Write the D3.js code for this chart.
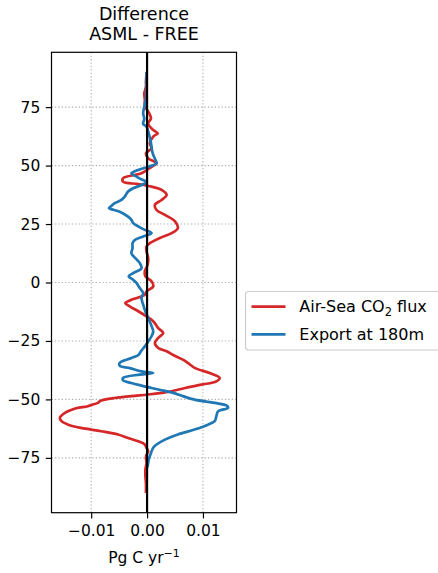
<!DOCTYPE html>
<html>
<head>
<meta charset="utf-8">
<script src="https://cdn.jsdelivr.net/npm/d3@7"></script>
<style>
  html, body { margin: 0; padding: 0; background: #fff; }
  svg { display: block; font-family: "DejaVu Sans", sans-serif; }
</style>
</head>
<body>
<svg id="chart" width="438" height="573"></svg>
<script>
// ---------- data ----------
const seriesNames = ["Air-Sea CO\u2082 flux", "Export at 180m"];
const seriesColors = ["#d62728", "#1f77b4"];

// Air-Sea CO2 flux difference (Pg C / yr) by latitude
const fluxLat = [89.5, 86, 83.7, 80.9, 78, 75.2, 73.5, 72.3, 70.2, 68.0, 65.2, 63.8, 62.4, 59.5, 57.4, 55.3, 53.1, 51.0, 49.5, 46.7, 44.6, 43.1, 42.1, 41.0, 39.6, 37.4, 35.3, 33.2, 31.0, 28.9, 26.1, 23.2, 21.1, 19.0, 16.8, 15.4, 13.3, 10.4, 7.6, 4.7, 2.6, 0.5, -1.7, -3.8, -5.2, -7.4, -8.8, -10.2, -12.4, -14.5, -16.6, -19.5, -21.6, -23.7, -25.9, -28.0, -29.4, -30.9, -33.0, -34.4, -36.6, -38.7, -40.8, -42.3, -43.7, -45.1, -46.5, -47.2, -47.9, -48.6, -49.4, -50.1, -50.8, -51.5, -52.2, -52.9, -54.0, -55.8, -57.9, -59.3, -60.8, -62.2, -63.6, -65.0, -66.5, -67.9, -69.3, -70.7, -72.2, -73.6, -75.0, -77.1, -80.0, -82.8, -86.0, -89.5];
const fluxVal = [-0.0001, -0.0002, -0.0002, -0.0005, -0.0004, -0.0004, 0.0001, 0.0004, 0.0007, 0.0002, 0.0011, 0.0019, 0.0011, 0.0005, 0.0008, -0.0002, 0.0002, 0.0017, 0.0008, -0.0010, -0.0043, -0.0043, -0.0016, 0.0008, 0.0026, 0.0035, 0.0026, 0.0014, 0.0017, 0.0032, 0.0050, 0.0055, 0.0044, 0.0023, 0.0005, -0.0001, -0.0001, 0.0002, 0.0001, -0.0004, -0.0003, 0.0008, 0.0011, -0.0001, -0.0004, -0.0028, -0.0039, -0.0031, -0.0015, -0.0001, 0.0011, 0.0020, 0.0029, 0.0020, 0.0014, 0.0020, 0.0035, 0.0046, 0.0064, 0.0073, 0.0086, 0.0112, 0.0130, 0.0124, 0.0097, 0.0068, 0.0044, 0.0026, 0.0002, -0.0028, -0.0058, -0.0076, -0.0085, -0.0088, -0.0097, -0.0106, -0.0130, -0.0147, -0.0156, -0.0153, -0.0141, -0.0118, -0.0082, -0.0052, -0.0034, -0.0016, -0.0004, -0.0001, 0.0002, -0.0001, -0.0002, -0.0001, -0.0003, -0.0003, -0.0002, -0.0002];

// Export at 180m difference (Pg C / yr) by latitude
const exportLat = [89.5, 86, 82, 78, 75.2, 72.3, 70.0, 67.8, 66.6, 63.8, 60.9, 58.1, 55.3, 52.4, 51.0, 49.5, 48.1, 46.7, 45.3, 44.1, 43.1, 41.7, 40.3, 38.9, 36.7, 35.3, 33.9, 32.5, 31.8, 30.3, 28.2, 26.8, 25.4, 23.9, 22.5, 21.1, 19.7, 18.2, 16.8, 14.7, 12.5, 10.4, 8.3, 6.1, 4.0, 2.6, 1.2, -0.2, -2.4, -4.5, -6.6, -9.5, -12.4, -15.2, -18.0, -20.9, -23.0, -25.2, -27.3, -29.4, -30.9, -32.3, -34.4, -35.6, -36.6, -38.0, -38.7, -39.4, -40.8, -41.8, -43.0, -44.1, -45.1, -46.1, -47.2, -48.6, -50.1, -51.5, -52.6, -53.6, -55.1, -57.2, -59.3, -60.8, -62.9, -65.0, -67.2, -69.3, -70.7, -72.9, -75.7, -77.1, -78.5];
const exportVal = [-0.0001, -0.0001, -0.0001, -0.0002, -0.0005, -0.0007, -0.0005, -0.0007, -0.0001, 0.0003, 0.0006, 0.0008, 0.0010, 0.0015, 0.0017, 0.0002, -0.0016, -0.0028, -0.0019, -0.0010, -0.0001, -0.0010, -0.0025, -0.0034, -0.0040, -0.0046, -0.0058, -0.0065, -0.0068, -0.0049, -0.0034, -0.0028, -0.0025, -0.0015, -0.0004, 0.0008, -0.0007, -0.0022, -0.0026, -0.0026, -0.0028, -0.0021, -0.0013, -0.0010, -0.0025, -0.0033, -0.0025, -0.0019, -0.0013, -0.0007, -0.0010, -0.0007, -0.0003, 0.0002, 0.0007, 0.0011, 0.0008, 0.0002, -0.0004, -0.0011, -0.0015, -0.0028, -0.0049, -0.0049, -0.0031, -0.0010, 0.0011, -0.0013, -0.0043, -0.0043, -0.0028, -0.0010, 0.0008, 0.0026, 0.0047, 0.0064, 0.0085, 0.0121, 0.0142, 0.0145, 0.0127, 0.0124, 0.0121, 0.0109, 0.0085, 0.0055, 0.0032, 0.0017, 0.0011, 0.0007, 0.0003, 0.0002, 0.0001];

const xTicks = [-0.01, 0.00, 0.01];
const xTickLabels = ["\u22120.01", "0.00", "0.01"];
const yTicks = [-75, -50, -25, 0, 25, 50, 75];
const yTickLabels = ["\u221275", "\u221250", "\u221225", "0", "25", "50", "75"];
const titleLines = ["Difference", "ASML - FREE"];

// ---------- layout ----------
const svg = d3.select("#chart");
const plot = { left: 51.5, right: 236.5, top: 52.3, bottom: 512.7 };

const allVals = fluxVal.concat(exportVal);
const allLats = fluxLat.concat(exportLat);
const [vmin, vmax] = d3.extent(allVals);
const vpad = (vmax - vmin) * 0.05;
const [lmin, lmax] = d3.extent(allLats);
const lpad = (lmax - lmin) * 0.05;

const x = d3.scaleLinear().domain([vmin - vpad, vmax + vpad]).range([plot.left, plot.right]);
const y = d3.scaleLinear().domain([lmin - lpad, lmax + lpad]).range([plot.bottom, plot.top]);

const fontTick = 15.5;

// grid
const grid = svg.append("g");
grid.selectAll("line.gx").data(xTicks).join("line")
  .attr("x1", d => x(d)).attr("x2", d => x(d))
  .attr("y1", plot.top).attr("y2", plot.bottom)
  .attr("stroke", "#b0b0b0").attr("stroke-width", 1.1).attr("stroke-dasharray", "1.3,2.1");
grid.selectAll("line.gy").data(yTicks).join("line")
  .attr("y1", d => y(d)).attr("y2", d => y(d))
  .attr("x1", plot.left).attr("x2", plot.right)
  .attr("stroke", "#b0b0b0").attr("stroke-width", 1.1).attr("stroke-dasharray", "1.3,2.1");

// lines
svg.append("clipPath").attr("id", "clip").append("rect")
  .attr("x", plot.left).attr("y", plot.top)
  .attr("width", plot.right - plot.left).attr("height", plot.bottom - plot.top);

const line = d3.line().x(d => x(d[1])).y(d => y(d[0])).curve(d3.curveCatmullRom.alpha(0.5));
const series = [
  d3.zip(fluxLat, fluxVal),
  d3.zip(exportLat, exportVal)
];
const lg = svg.append("g").attr("clip-path", "url(#clip)");
series.forEach((s, i) => {
  lg.append("path").datum(s).attr("d", line)
    .attr("fill", "none").attr("stroke", seriesColors[i])
    .attr("stroke-width", 2.7).attr("stroke-linejoin", "round").attr("stroke-linecap", "square");
});
// zero line
lg.append("line")
  .attr("x1", x(0)).attr("x2", x(0)).attr("y1", plot.top).attr("y2", plot.bottom)
  .attr("stroke", "#000").attr("stroke-width", 2.2);

// axes
const xAxis = d3.axisBottom(x).tickValues(xTicks).tickFormat((d, i) => xTickLabels[i]).tickSizeOuter(0).tickSize(5.7).tickPadding(6.5);
const yAxis = d3.axisLeft(y).tickValues(yTicks).tickFormat((d, i) => yTickLabels[i]).tickSizeOuter(0).tickSize(5.7).tickPadding(5.5);
const gx = svg.append("g").attr("transform", `translate(0,${plot.bottom})`).call(xAxis);
const gy = svg.append("g").attr("transform", `translate(${plot.left},0)`).call(yAxis);
[gx, gy].forEach(g => {
  g.select(".domain").remove();
  g.selectAll(".tick line").attr("stroke", "#000").attr("stroke-width", 1.2);
  g.selectAll(".tick text").attr("fill", "#000").style("font-size", fontTick + "px")
    .style("font-family", "'DejaVu Sans', sans-serif");
});

// spines
svg.append("rect").attr("x", plot.left).attr("y", plot.top)
  .attr("width", plot.right - plot.left).attr("height", plot.bottom - plot.top)
  .attr("fill", "none").attr("stroke", "#000").attr("stroke-width", 1.2);

// title
const cx = (plot.left + plot.right) / 2;
svg.append("text").attr("x", cx).attr("y", 20).attr("text-anchor", "middle")
  .style("font-size", "17.5px").text(titleLines[0]);
svg.append("text").attr("x", cx).attr("y", 40).attr("text-anchor", "middle")
  .style("font-size", "17.5px").text(titleLines[1]);

// x label
const xl = svg.append("text").attr("x", cx).attr("y", 563).attr("text-anchor", "middle")
  .style("font-size", fontTick + "px");
xl.append("tspan").text("Pg C yr");
xl.append("tspan").attr("dy", -6).style("font-size", "11px").text("\u22121");

// legend
const leg = svg.append("g");
leg.append("rect").attr("x", 245.5).attr("y", 291.5).attr("width", 200).attr("height", 58.5)
  .attr("rx", 3).attr("fill", "#fff").attr("fill-opacity", 0.8)
  .attr("stroke", "#cccccc").attr("stroke-width", 1.2);
const legY = [306.7, 334.4];
seriesNames.forEach((n, i) => {
  leg.append("line").attr("x1", 251.5).attr("x2", 285.5).attr("y1", legY[i]).attr("y2", legY[i])
    .attr("stroke", seriesColors[i]).attr("stroke-width", 2.7);
});
const t1 = leg.append("text").attr("x", 299.3).attr("y", legY[0] + 5.6).style("font-size", "16px");
t1.append("tspan").text("Air-Sea CO");
t1.append("tspan").attr("dy", 3.5).style("font-size", "11.5px").text("2");
t1.append("tspan").attr("dy", -3.5).text(" flux");
leg.append("text").attr("x", 299.3).attr("y", legY[1] + 5.6).style("font-size", "16px").text("Export at 180m");
</script>
</body>
</html>
